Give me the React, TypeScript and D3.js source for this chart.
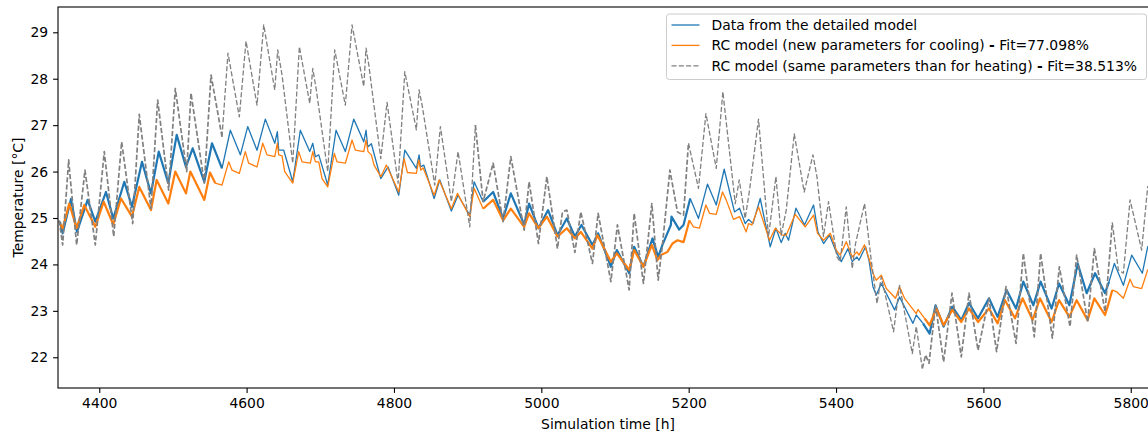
import React, { useEffect, useRef } from 'react';
import * as d3 from 'd3';

// [simulation hour, temperature °C] (daily peaks / troughs)
const detailedModel: [number, number][] = [
  [4346.6, 24.92], [4350.3, 24.67], [4361.6, 25.41], [4369.7, 24.7], [4384.2, 25.39], [4394.6, 24.92],
  [4409.1, 25.56], [4419, 24.99], [4434, 25.78], [4444.4, 25.24], [4458, 26.21], [4470.2, 25.53],
  [4480.7, 26.43], [4493.7, 25.75], [4505.1, 26.79], [4517.7, 26.1], [4526.8, 26.5], [4542.6, 25.78],
  [4553, 26.61], [4566.6, 26.07], [4577.9, 26.89], [4591.5, 26.36], [4601.5, 26.97], [4614.1, 26.46],
  [4625.4, 27.13], [4638.2, 26.61], [4641.7, 26.86], [4643.6, 26.46], [4650.4, 26.46], [4662.6, 25.78],
  [4672.9, 26.89], [4685.7, 26.43], [4689.8, 26.61], [4693.3, 26.32], [4697.9, 26.36], [4710.1, 25.71],
  [4721.4, 26.89], [4734, 26.43], [4745.4, 27.13], [4759, 26.64], [4762.1, 26.89], [4764.4, 26.53],
  [4769.3, 26.6], [4782.1, 25.85], [4792, 26.1], [4806.5, 25.49], [4814.7, 26.46], [4830.4, 26.07],
  [4834.1, 26.36], [4835.9, 26.1], [4840.5, 26.14], [4854.5, 25.42], [4862.2, 25.82], [4877.9, 25.15],
  [4887, 25.49], [4902.9, 25.06], [4908.8, 25.78], [4921, 25.35], [4934.6, 25.56], [4948.1, 24.99],
  [4958.6, 25.53], [4976.7, 24.86], [4983.4, 25.31], [4996.1, 24.78], [5009.2, 25.17], [5021.9, 24.63],
  [5034.6, 24.99], [5045.5, 24.6], [5054.5, 24.85], [5069.4, 24.42], [5077.1, 24.67], [5094.4, 23.95],
  [5102.5, 24.31], [5119.2, 23.81], [5126, 24.38], [5138.6, 23.95], [5150.9, 24.56], [5158.6, 24.16],
  [5164.4, 24.42], [5175.8, 24.85], [5176.7, 25.03], [5187.1, 24.75], [5193, 24.85], [5202.1, 25.42],
  [5213.3, 24.99], [5225.5, 25.73], [5237.4, 25.28], [5248.2, 26.05], [5262.2, 25.13], [5269, 25.21],
  [5276.7, 24.88], [5281.2, 24.97], [5287.2, 24.88], [5297.1, 25.42], [5310.7, 24.38], [5318.4, 24.78],
  [5325.6, 24.47], [5331, 24.67], [5335.5, 24.52], [5345.6, 25.21], [5357.2, 24.85], [5369.5, 25.28],
  [5375.5, 24.7], [5383.1, 24.45], [5391.2, 24.63], [5400.3, 24.27], [5407.1, 24.06], [5416.2, 24.34],
  [5422, 24.06], [5428.4, 24.16], [5431.1, 24.09], [5440.1, 24.38], [5444.7, 24.09], [5450.1, 23.52],
  [5454.6, 23.34], [5461.4, 23.59], [5479.5, 23.02], [5486.2, 23.3], [5504.4, 22.73], [5508.9, 22.91],
  [5518, 22.73], [5527, 22.51], [5535.1, 23.12], [5546, 22.66], [5557.8, 23.09], [5570, 22.8],
  [5580.5, 23.17], [5592.7, 22.84], [5607.6, 23.27], [5619.3, 22.87], [5631.5, 23.45], [5644.3, 23.05],
  [5654.2, 23.63], [5667.8, 23.12], [5677.7, 23.63], [5692.6, 23.05], [5702.7, 23.59], [5716.7, 23.12],
  [5728, 24.02], [5740.2, 23.38], [5751.6, 23.81], [5765.1, 23.38], [5770.6, 23.63], [5777.8, 24.02],
  [5790, 23.55], [5801.3, 24.2], [5815.8, 23.81], [5823, 24.38], [5830, 24.45],
];

const rcNewParams: [number, number][] = [
  [4346.6, 24.88], [4350.3, 24.78], [4359.3, 25.31], [4369.3, 24.78], [4379.6, 25.28], [4394.6, 24.81],
  [4406, 25.35], [4419, 24.86], [4429.5, 25.42], [4444.4, 25.03], [4454.3, 25.67], [4470.2, 25.17],
  [4477.9, 25.82], [4493.7, 25.31], [4503.2, 26.0], [4517.7, 25.53], [4523.6, 26.0], [4542.6, 25.39],
  [4550.3, 25.98], [4557.5, 25.75], [4566.6, 25.71], [4575.7, 26.21], [4580.2, 26.03], [4590.1, 25.96],
  [4598.2, 26.43], [4602.8, 26.18], [4614.1, 26.1], [4621.9, 26.61], [4627.7, 26.36], [4638.2, 26.32],
  [4641.7, 26.61], [4643.6, 26.36], [4648.1, 26.34], [4651.7, 26.0], [4662.6, 25.75], [4670.7, 26.43],
  [4675.2, 26.21], [4686.5, 26.18], [4689.8, 26.43], [4693.3, 26.21], [4697.9, 26.21], [4702.4, 25.85],
  [4710.1, 25.67], [4719.1, 26.39], [4722.7, 26.21], [4734, 26.18], [4743.1, 26.68], [4747.6, 26.46],
  [4759, 26.43], [4762.1, 26.68], [4764.8, 26.43], [4769.3, 26.36], [4773, 26.14], [4782.1, 25.89],
  [4789.7, 26.14], [4806.5, 25.56], [4813.7, 26.28], [4818.2, 25.98], [4830.4, 25.96], [4833.7, 26.25],
  [4836.4, 26.03], [4839.5, 26.08], [4854.5, 25.49], [4861.3, 25.82], [4877.9, 25.2], [4886.1, 25.53],
  [4902.9, 25.03], [4908.8, 25.64], [4921, 25.2], [4934.6, 25.39], [4948.1, 24.95], [4958.6, 25.2],
  [4976.7, 24.81], [4983.4, 25.1], [4996.1, 24.78], [5007.5, 25.03], [5021.9, 24.6], [5034.6, 24.78],
  [5045.5, 24.56], [5053.6, 24.7], [5069.4, 24.34], [5076.2, 24.63], [5094.4, 24.06], [5102.5, 24.24],
  [5119.2, 23.88], [5126, 24.31], [5138.6, 23.95], [5150, 24.42], [5157.6, 24.09], [5162.2, 24.2],
  [5171.2, 24.27], [5178, 24.45], [5184.8, 24.52], [5193, 24.48], [5201.1, 24.95], [5206.5, 24.81],
  [5214.6, 24.78], [5223.4, 25.28], [5228.3, 25.1], [5237.4, 25.08], [5245.9, 25.56], [5250.9, 25.39],
  [5260.8, 24.97], [5269, 25.03], [5278.1, 24.7], [5281.2, 24.88], [5285.8, 24.85], [5294.8, 25.24],
  [5309.7, 24.52], [5317.5, 24.78], [5326.6, 24.63], [5332.4, 24.63], [5344.6, 25.08], [5358.2, 24.81],
  [5369.5, 25.06], [5374.9, 24.67], [5383.1, 24.52], [5392.2, 24.67], [5400.3, 24.31], [5405.7, 24.2],
  [5413.9, 24.49], [5422, 24.16], [5428.4, 24.27], [5431.1, 24.2], [5438.7, 24.42], [5445.5, 24.09],
  [5450.1, 23.81], [5454.6, 23.66], [5461.4, 23.77], [5468.2, 23.48], [5480.8, 23.27], [5486.2, 23.52],
  [5493, 23.27], [5508.9, 22.94], [5511.2, 23.03], [5520.2, 22.84], [5527, 22.69], [5536.1, 23.05],
  [5546, 22.69], [5557.8, 23.02], [5570, 22.76], [5580.5, 23.05], [5592.7, 22.76], [5607.6, 23.05],
  [5619.3, 22.73], [5629.3, 23.23], [5642.9, 22.84], [5653.2, 23.27], [5666.8, 22.8], [5676.8, 23.27],
  [5692.6, 22.76], [5702.7, 23.23], [5716.7, 22.87], [5726.6, 23.23], [5741.5, 22.8], [5750.6, 23.27],
  [5765.1, 22.91], [5768.7, 23.09], [5775, 23.45], [5780.9, 23.41], [5790, 23.27], [5799.1, 23.68],
  [5803.6, 23.52], [5814.8, 23.48], [5823, 23.88], [5830, 23.9],
];

const rcSameParams: [number, number][] = [
  [4345.7, 24.95], [4350.3, 24.42], [4358.5, 26.25], [4360.2, 25.93], [4369.3, 24.42], [4380.6, 26.03],
  [4394.6, 24.42], [4406.8, 26.43], [4419.6, 24.6], [4430.4, 26.64], [4445.4, 24.88], [4454.3, 27.23],
  [4470.2, 25.2], [4479.3, 27.54], [4494.2, 25.6], [4503.2, 27.79], [4518.7, 26.0], [4524.5, 27.69],
  [4542.6, 25.75], [4551.7, 28.08], [4566.6, 26.75], [4574.7, 28.55], [4590.1, 27.18], [4599.2, 28.81],
  [4614.1, 27.43], [4623.2, 29.16], [4638.2, 27.76], [4642.2, 28.62], [4648.1, 28.08], [4662.6, 26.18],
  [4671.6, 28.69], [4685.7, 27.47], [4689.8, 28.22], [4694.6, 27.76], [4710.1, 26.0], [4719.6, 28.62],
  [4734, 27.43], [4743.1, 29.16], [4759, 27.83], [4762.1, 28.66], [4765.8, 28.3], [4782.1, 26.28],
  [4790.6, 27.49], [4805.6, 25.75], [4814.7, 28.15], [4830.4, 26.9], [4834.1, 27.76], [4838.2, 27.43],
  [4855.4, 25.71], [4863, 26.97], [4877.9, 25.35], [4887, 26.43], [4902.9, 24.81], [4910.5, 27.0],
  [4921, 25.35], [4934.6, 26.18], [4948.1, 24.92], [4958.6, 26.32], [4976.7, 24.74], [4983.4, 25.78],
  [4996.1, 24.45], [5007.5, 25.89], [5021.9, 24.34], [5028.7, 25.13], [5034.6, 25.17], [5045.5, 24.26],
  [5053.6, 25.13], [5069.4, 24.02], [5077.1, 25.1], [5094.4, 23.63], [5103.3, 24.85], [5119.2, 23.45],
  [5126, 25.1], [5138.6, 23.59], [5150, 25.31], [5158.6, 23.66], [5164.4, 24.42], [5174.5, 26.03],
  [5184.8, 25.13], [5193, 25.06], [5199.7, 26.61], [5213.3, 25.64], [5223.4, 27.25], [5237.4, 26.07],
  [5246.4, 27.72], [5263.2, 25.31], [5268.6, 25.82], [5276.7, 24.99], [5282.6, 25.6], [5294.8, 27.13],
  [5308.4, 24.6], [5318.4, 25.89], [5325.6, 24.63], [5332.4, 25.17], [5343.3, 26.81], [5356.8, 25.56],
  [5368.7, 26.36], [5374.1, 25.89], [5383, 24.6], [5389.8, 25.35], [5401.2, 24.16], [5405.7, 24.06],
  [5413.9, 25.24], [5422, 23.91], [5426.5, 24.45], [5438.7, 25.31], [5447.8, 24.09], [5455.6, 23.16],
  [5461.4, 23.73], [5478.1, 22.55], [5486.2, 23.55], [5503.5, 22.08], [5508.9, 22.66], [5517.1, 21.76],
  [5521.6, 22.05], [5526.2, 21.87], [5535.1, 23.12], [5546, 21.9], [5557.4, 23.38], [5570, 22.01],
  [5580.5, 23.38], [5592.7, 22.15], [5607.6, 23.27], [5617.9, 22.12], [5630.7, 23.52], [5644.3, 22.3],
  [5654.2, 24.24], [5669.1, 22.44], [5677.7, 24.24], [5693.6, 22.41], [5703.1, 23.95], [5717.6, 22.66],
  [5726.6, 24.2], [5741.5, 22.76], [5750.6, 24.34], [5765.1, 22.98], [5775, 24.9], [5783.2, 23.88],
  [5790, 23.81], [5799.1, 25.39], [5814.8, 24.31], [5823, 25.67], [5830, 25.75],
];

// periods where the hourly series are visibly noisy (thicker trace)
const noisySpans: [number, number][] = [[4340, 4557], [4909, 5193], [5513, 5769]];

const xTicks = [4400, 4600, 4800, 5000, 5200, 5400, 5600, 5800];
const yTicks = [22, 23, 24, 25, 26, 27, 28, 29];
const legendLabels = [
  'Data from the detailed model',
  'RC model (new parameters for cooling)',
  'RC model (same parameters than for heating)',
];
const fitLabels = ['', 'Fit=77.098%', 'Fit=38.513%'];

const W = 1148, H = 435;
const FONT = '"DejaVu Sans", sans-serif';

const App = () => {
  const ref = useRef<SVGSVGElement>(null);

  useEffect(() => {
    const svg = d3.select(ref.current);
    svg.selectAll('*').remove();

    const left = 58, right = 1158, top = 7, bottom = 388;
    const x = d3.scaleLinear().domain([4344, 5837]).range([left, right]);
    const y = d3.scaleLinear().domain([21.338, 29.545]).range([bottom, top]);

    svg.append('defs').append('clipPath').attr('id', 'plotclip')
      .append('rect').attr('x', left).attr('y', top).attr('width', right - left).attr('height', bottom - top);

    const line = d3.line<[number, number]>().x(d => x(d[0])).y(d => y(d[1]));
    const isNoisy = (h: number) => noisySpans.some(s => h >= s[0] && h <= s[1]);

    // split a series into runs so the noisy periods get a thicker stroke
    const runs = (pts: [number, number][]) => {
      const out: { pts: [number, number][]; noisy: boolean }[] = [];
      let cur: [number, number][] = [pts[0]];
      let state = isNoisy(pts[0][0]);
      for (let i = 1; i < pts.length; i++) {
        const n = isNoisy(pts[i][0]);
        cur.push(pts[i]);
        if (n !== state) {
          out.push({ pts: cur, noisy: state });
          cur = [pts[i]];
          state = n;
        }
      }
      out.push({ pts: cur, noisy: state });
      return out;
    };

    const plot = svg.append('g').attr('clip-path', 'url(#plotclip)');
    const series = [
      { data: detailedModel, color: '#1f77b4', dash: null, w: 1.3, wn: 2.2 },
      { data: rcNewParams, color: '#ff7f0e', dash: null, w: 1.3, wn: 2.2 },
      { data: rcSameParams, color: '#808080', dash: '5.1,2.2', w: 1.3, wn: 1.7 },
    ];
    series.forEach(s => {
      runs(s.data).forEach(r => {
        plot.append('path')
          .attr('d', line(r.pts))
          .attr('fill', 'none')
          .attr('stroke', s.color)
          .attr('stroke-width', r.noisy ? s.wn : s.w)
          .attr('stroke-linejoin', 'round')
          .attr('stroke-dasharray', s.dash);
      });
    });

    // axes
    const xAxis = svg.append('g').attr('transform', `translate(0,${bottom})`)
      .call(d3.axisBottom(x).tickValues(xTicks).tickSize(4.9).tickPadding(4.9).tickFormat(d3.format('d')));
    const yAxis = svg.append('g').attr('transform', `translate(${left},0)`)
      .call(d3.axisLeft(y).tickValues(yTicks).tickSize(4.9).tickPadding(4.9).tickFormat(d3.format('d')));
    [xAxis, yAxis].forEach(a => {
      a.select('.domain').remove();
      a.attr('font-family', FONT).attr('font-size', 13.9);
      a.selectAll('line').attr('stroke', '#000').attr('stroke-width', 1.1);
      a.selectAll('text').attr('fill', '#000');
    });

    // spines
    const sp = svg.append('g').attr('stroke', '#000').attr('stroke-width', 1.1).attr('fill', 'none');
    sp.append('rect').attr('x', left).attr('y', top).attr('width', right - left).attr('height', bottom - top);

    svg.append('text')
      .attr('x', (left + right) / 2).attr('y', 428.5)
      .attr('text-anchor', 'middle').attr('font-family', FONT).attr('font-size', 13.9)
      .text('Simulation time [h]');
    svg.append('text')
      .attr('transform', `translate(22.5,${(top + bottom) / 2}) rotate(-90)`)
      .attr('text-anchor', 'middle').attr('font-family', FONT).attr('font-size', 13.9)
      .text('Temperature [°C]');

    // legend
    const lg = svg.append('g');
    lg.append('rect')
      .attr('x', 666.5).attr('y', 14).attr('width', 480).attr('height', 65.5)
      .attr('rx', 2.8).attr('fill', 'rgba(255,255,255,0.8)').attr('stroke', '#cccccc').attr('stroke-width', 1);
    legendLabels.forEach((lab, i) => {
      const cy = 25 + i * 20.4;
      const s = series[i];
      lg.append('line')
        .attr('x1', 671.5).attr('x2', 699.5).attr('y1', cy).attr('y2', cy)
        .attr('stroke', s.color).attr('stroke-width', s.w).attr('stroke-dasharray', s.dash);
      const t = lg.append('text')
        .attr('x', 711.5).attr('y', cy + 5)
        .attr('font-family', FONT).attr('font-size', 13.9).attr('fill', '#000');
      t.append('tspan').text(lab);
      if (fitLabels[i]) {
        t.append('tspan').text(' ');
        t.append('tspan').attr('font-weight', 'bold').text('-');
        t.append('tspan').text(' ' + fitLabels[i]);
      }
    });
  }, []);

  return (
    <svg ref={ref} width={W} height={H}
      style={{ position: 'absolute', left: 0, top: 0, background: '#fff' }} />
  );
};

export default App;
